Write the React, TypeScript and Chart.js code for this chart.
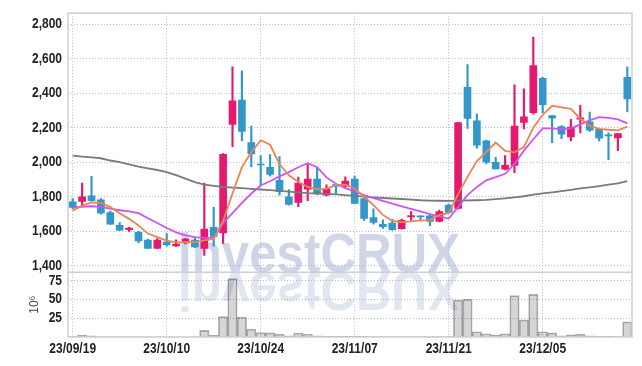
import React, { useEffect, useRef } from 'react';
import { Chart, registerables } from 'chart.js';

Chart.register(...registerables);

const DATES = [
  '23/09/19', '23/09/20', '23/09/21', '23/09/22', '23/09/25', '23/09/26', '23/09/27', '23/10/04', '23/10/05', '23/10/06',
  '23/10/10', '23/10/11', '23/10/12', '23/10/13', '23/10/16', '23/10/17', '23/10/18', '23/10/19', '23/10/20', '23/10/23',
  '23/10/24', '23/10/25', '23/10/26', '23/10/27', '23/10/30', '23/10/31', '23/11/01', '23/11/02', '23/11/03', '23/11/06',
  '23/11/07', '23/11/08', '23/11/09', '23/11/10', '23/11/13', '23/11/14', '23/11/15', '23/11/16', '23/11/17', '23/11/20',
  '23/11/21', '23/11/22', '23/11/23', '23/11/24', '23/11/27', '23/11/28', '23/11/29', '23/11/30', '23/12/01', '23/12/04',
  '23/12/05', '23/12/06', '23/12/07', '23/12/08', '23/12/11', '23/12/12', '23/12/13', '23/12/14', '23/12/15', '23/12/18',
];

const TICK_LABELS = ['23/09/19', '23/10/10', '23/10/24', '23/11/07', '23/11/21', '23/12/05'];

const OPEN = [
  1771, 1773, 1806, 1783, 1709, 1634, 1610, 1594, 1549, 1501,
  1537, 1516, 1533, 1549, 1501, 1623, 1590, 2219, 2360, 2114,
  1990, 1971, 1895, 1800, 1767, 1844, 1903, 1810, 1870, 1862,
  1903, 1790, 1680, 1640, 1648, 1615, 1684, 1689, 1689, 1657,
  1752, 1733, 2434, 2240, 2124, 2000, 1960, 1981, 2230, 2287,
  2486, 2270, 2206, 2147, 2250, 2234, 2190, 2158, 2141, 2491,
];
const HIGH = [
  1789, 1880, 1918, 1789, 1717, 1651, 1623, 1600, 1555, 1558,
  1587, 1551, 1560, 1562, 1880, 1739, 2050, 2552, 2530, 2210,
  2038, 2044, 2033, 1842, 1914, 1994, 1967, 1869, 1872, 1916,
  1920, 1796, 1730, 1667, 1669, 1671, 1714, 1690, 1697, 1723,
  1757, 2231, 2566, 2280, 2128, 2029, 2038, 2448, 2425, 2724,
  2491, 2272, 2212, 2248, 2330, 2290, 2195, 2170, 2166, 2552,
];
const LOW = [
  1730, 1740, 1775, 1699, 1640, 1603, 1600, 1533, 1501, 1499,
  1514, 1513, 1527, 1505, 1461, 1514, 1530, 2090, 2124, 1975,
  1867, 1920, 1810, 1752, 1743, 1777, 1812, 1805, 1815, 1855,
  1760, 1663, 1642, 1617, 1605, 1613, 1663, 1660, 1633, 1655,
  1706, 1730, 2196, 2082, 1990, 1960, 1955, 1939, 2193, 2279,
  2286, 2114, 2137, 2124, 2170, 2179, 2124, 2015, 2067, 2291,
];
const CLOSE = [
  1739, 1800, 1777, 1705, 1642, 1606, 1619, 1545, 1501, 1549,
  1522, 1526, 1556, 1509, 1613, 1570, 2046, 2356, 2179, 2048,
  1985, 1930, 1829, 1756, 1880, 1903, 1819, 1846, 1862, 1891,
  1762, 1674, 1651, 1627, 1610, 1663, 1691, 1684, 1657, 1714,
  1710, 2229, 2253, 2099, 2000, 1962, 1983, 2210, 2263, 2560,
  2333, 2255, 2162, 2204, 2257, 2185, 2139, 2152, 2166, 2367,
];
// volume in millions
const VOLUME = [
  0.5, 2.5, 1.5, 0.3, 0.3, 0.3, 0.3, 0.3, 0.3, 0.3,
  0.3, 0.3, 0.3, 0.3, 8.7, 2.5, 27, 77.6, 26.3, 10.5,
  6, 5.5, 3.9, 1.7, 5.3, 4, 1.5, 1, 1, 1,
  0.8, 0.8, 0.4, 0.4, 0.4, 0.4, 0.4, 0.4, 0.4, 0.4,
  0.4, 49, 50, 7, 4.3, 3, 4.3, 55, 22.8, 56.6,
  7, 5.5, 1.5, 3, 3.8, 1.5, 1, 1, 0.5, 20,
];
const MA_SHORT = [
  1720, 1749, 1768, 1764, 1740, 1705, 1672, 1634, 1587, 1566,
  1546, 1536, 1537, 1537, 1548, 1556, 1660, 1819, 1971, 2057,
  2127, 2101, 1990, 1924, 1886, 1857, 1844, 1846, 1867, 1870,
  1848, 1800, 1752, 1695, 1661, 1653, 1657, 1663, 1665, 1695,
  1705, 1815, 1915, 2007, 2060, 2114, 2065, 2057, 2088, 2200,
  2275, 2327, 2318, 2309, 2252, 2210, 2193, 2188, 2184, 2206,
];
const MA_MID = [
  1739, 1743, 1745, 1741, 1731, 1722, 1716, 1705, 1676, 1648,
  1619, 1594, 1577, 1566, 1562, 1562, 1648, 1705, 1765, 1819,
  1865, 1890, 1918, 1943, 1971, 1994, 1971, 1912, 1875, 1850,
  1832, 1810, 1792, 1776, 1760, 1745, 1730, 1715, 1700, 1686,
  1674, 1740, 1810, 1857, 1895, 1914, 1933, 1990, 2067, 2133,
  2196, 2196, 2190, 2196, 2219, 2242, 2261, 2257, 2248, 2225,
];
const MA_LONG = [
  2038, 2033, 2028, 2023, 2010, 2000, 1988, 1975, 1965, 1955,
  1943, 1925, 1905, 1885, 1870, 1863, 1857, 1853, 1850, 1846,
  1842, 1838, 1834, 1830, 1825, 1821, 1819, 1817, 1814, 1810,
  1805, 1801, 1797, 1793, 1790, 1787, 1784, 1780, 1778, 1777,
  1776, 1778, 1779, 1780, 1782, 1786, 1791, 1797, 1803, 1812,
  1820, 1826, 1833, 1840, 1848, 1855, 1862, 1870, 1878, 1890,
];

const UP = '#e5196d';
const DOWN = '#3398c9';
const GRID = 'rgba(160,165,195,0.75)';
const LABEL_FONT = "bold 15px 'Liberation Sans', 'DejaVu Sans', sans-serif";
const LABEL_SQUEEZE = 0.8;
const HIDDEN = 'rgba(0,0,0,0)';

const candleColors = OPEN.map((o, i) => (CLOSE[i] >= o ? UP : DOWN));

function drawSqueezed(ctx: CanvasRenderingContext2D, text: string, x: number, y: number, align: CanvasTextAlign, baseline: CanvasTextBaseline) {
  ctx.save();
  ctx.translate(x, y);
  ctx.scale(LABEL_SQUEEZE, 1);
  ctx.textAlign = align;
  ctx.textBaseline = baseline;
  ctx.fillText(text, 0, 0);
  ctx.restore();
}

const framePlugin = {
  id: 'frame',
  beforeDatasetsDraw(chart: any) {
    const { ctx, chartArea } = chart;
    const yb = chart.scales.y.bottom;
    const text = 'investCRUX';
    ctx.save();
    ctx.beginPath();
    ctx.rect(chartArea.left, chartArea.top, chartArea.right - chartArea.left, chartArea.bottom - chartArea.top);
    ctx.clip();
    ctx.font = "bold 56px 'Liberation Sans', 'DejaVu Sans', sans-serif";
    ctx.textBaseline = 'alphabetic';
    ctx.textAlign = 'left';
    const w = ctx.measureText(text).width;
    const targetW = 282;
    const x0 = chartArea.left + 110;
    ctx.save();
    ctx.translate(x0, yb);
    ctx.scale(targetW / w, 1);
    ctx.fillStyle = 'rgba(150,165,205,0.45)';
    ctx.fillText(text, 0, 0);
    ctx.restore();
    ctx.save();
    ctx.translate(x0, yb);
    ctx.scale(targetW / w, -1);
    ctx.fillStyle = 'rgba(150,165,205,0.28)';
    ctx.fillText(text, 0, 0);
    ctx.restore();
    ctx.restore();
  },
  afterDatasetsDraw(chart: any) {
    const { ctx, chartArea } = chart;
    const yb = chart.scales.y.bottom;
    ctx.save();
    ctx.strokeStyle = '#cfcfd4';
    ctx.lineWidth = 1.5;
    ctx.strokeRect(chartArea.left, chartArea.top, chartArea.right - chartArea.left, chartArea.bottom - chartArea.top);
    ctx.beginPath();
    ctx.moveTo(chartArea.left, yb);
    ctx.lineTo(chartArea.right, yb);
    ctx.stroke();
    ctx.restore();
  },
  afterDraw(chart: any) {
    const { ctx } = chart;
    ctx.save();
    ctx.font = LABEL_FONT;
    ctx.fillStyle = '#222';
    for (const id of ['y', 'yv']) {
      const s = chart.scales[id];
      s.ticks.forEach((t: any) => {
        if (t.label === null || t.label === undefined || t.label === '') return;
        drawSqueezed(ctx, String(t.label), s.right - 6, s.getPixelForValue(t.value), 'right', 'middle');
      });
    }
    const sx = chart.scales.x;
    sx.ticks.forEach((t: any, i: number) => {
      if (t.label === null || t.label === undefined || t.label === '') return;
      drawSqueezed(ctx, String(t.label), sx.getPixelForTick(i), sx.top + 4, 'center', 'top');
    });
    ctx.restore();
  },
};

export default function App() {
  const ref = useRef<HTMLCanvasElement | null>(null);
  useEffect(() => {
    if (!ref.current) return;
    const chart = new Chart(ref.current, {
      type: 'bar',
      data: {
        labels: DATES,
        datasets: [
          { type: 'line', label: 'MA short', data: MA_SHORT, yAxisID: 'y', borderColor: '#ee8452', borderWidth: 1.8, pointRadius: 0, tension: 0, order: 0 } as any,
          { type: 'line', label: 'MA mid', data: MA_MID, yAxisID: 'y', borderColor: '#cc55ee', borderWidth: 1.8, pointRadius: 0, tension: 0, order: 0 } as any,
          { type: 'line', label: 'MA long', data: MA_LONG, yAxisID: 'y', borderColor: '#7a7a7a', borderWidth: 1.8, pointRadius: 0, tension: 0, order: 0 } as any,
          { type: 'bar', label: 'body', data: OPEN.map((o, i) => [o, CLOSE[i]]), yAxisID: 'y', backgroundColor: candleColors, borderWidth: 0, barThickness: 7, grouped: false, order: 1 } as any,
          { type: 'bar', label: 'wick', data: LOW.map((l, i) => [l, HIGH[i]]), yAxisID: 'y', backgroundColor: candleColors, borderWidth: 0, barThickness: 1.5, grouped: false, order: 2 } as any,
          { type: 'bar', label: 'volume', data: VOLUME, yAxisID: 'yv', backgroundColor: 'rgba(0,0,0,0.16)', borderColor: 'rgba(0,0,0,0.3)', borderWidth: 1, barPercentage: 1, categoryPercentage: 1, grouped: false, order: 3 } as any,
        ],
      },
      options: {
        responsive: false,
        animation: false,
        layout: { padding: { left: 0, top: 9, right: 10, bottom: 0 } },
        plugins: { legend: { display: false }, tooltip: { enabled: false } },
        scales: {
          x: {
            type: 'category',
            offset: true,
            grid: { offset: false, color: GRID, drawTicks: false, lineWidth: 1 },
            border: { display: false, dash: [1, 2] },
            ticks: {
              autoSkip: false,
              maxRotation: 0,
              minRotation: 0,
              padding: 4,
              color: HIDDEN,
              font: { size: 12 },
              callback: (_v: any, i: number) => (TICK_LABELS.includes(DATES[i]) ? DATES[i] : null),
            },
            afterFit: (s: any) => { s.height = 29; },
          },
          y: {
            type: 'linear',
            position: 'left',
            stack: 'panels',
            stackWeight: 4,
            weight: 2,
            min: 1363,
            max: 2863,
            grid: { color: GRID, drawTicks: false, lineWidth: 1 },
            border: { display: false, dash: [1, 2] },
            ticks: {
              autoSkip: false,
              stepSize: 200,
              includeBounds: false,
              padding: 6,
              color: HIDDEN,
              font: { size: 12 },
              callback: (v: any) => Number(v).toLocaleString('en-US'),
            },
            afterFit: (s: any) => { s.width = 68; },
          },
          yv: {
            type: 'linear',
            position: 'left',
            stack: 'panels',
            stackWeight: 1,
            weight: 1,
            min: 0,
            max: 86,
            grid: { color: GRID, drawTicks: false, lineWidth: 1 },
            border: { display: false, dash: [1, 2] },
            title: { display: true, text: '10⁶', color: '#444', font: { family: "'Liberation Sans', sans-serif", size: 12 }, padding: { top: 27, bottom: 0 } },
            ticks: {
              autoSkip: false,
              stepSize: 25,
              includeBounds: false,
              padding: 6,
              color: HIDDEN,
              font: { size: 12 },
              callback: (v: any) => (v === 0 ? null : String(v)),
            },
            afterFit: (s: any) => { s.width = 68; },
          },
        },
      } as any,
      plugins: [framePlugin],
    });
    return () => chart.destroy();
  }, []);
  return (
    <div style={{ position: 'fixed', left: 0, top: 0, width: 642, height: 366, background: '#fff' }}>
      <canvas ref={ref} width={642} height={366} style={{ display: 'block' }} />
    </div>
  );
}
